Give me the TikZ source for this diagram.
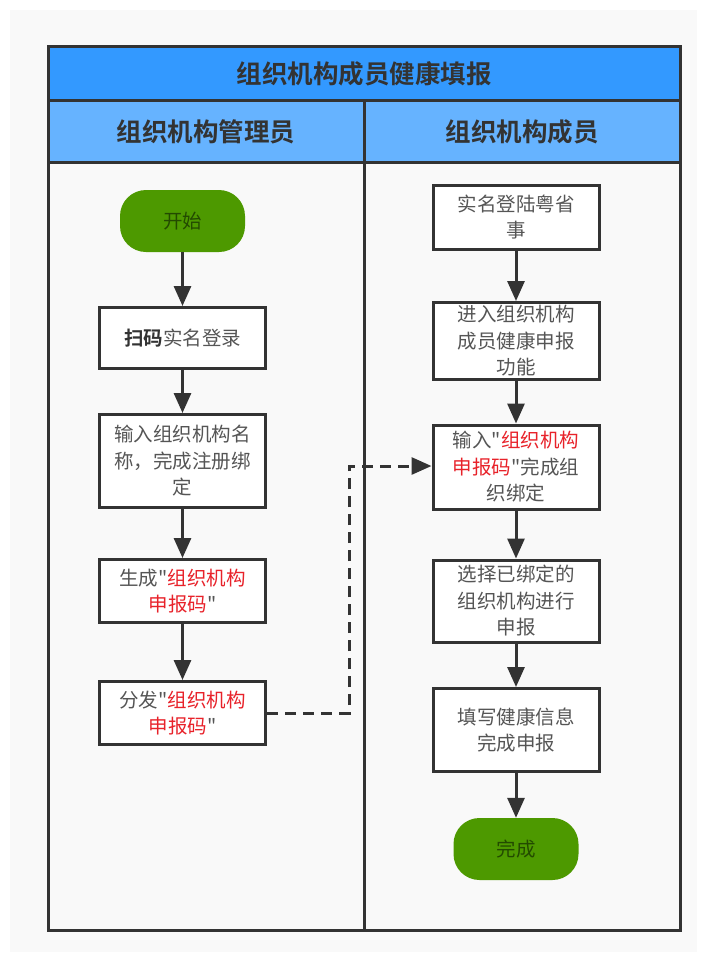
\documentclass[tikz,border=0pt]{standalone}
\usepackage{fontspec}
\setmainfont{Noto Sans CJK SC}[Ligatures=TeXOff]
\newfontfamily\cjkbold{Noto Sans CJK SC Bold}[Ligatures=TeXOff]
\usetikzlibrary{arrows.meta}
\definecolor{bgc}{HTML}{F9F9F9}
\definecolor{titlec}{HTML}{3399FF}
\definecolor{lanec}{HTML}{66B3FF}
\definecolor{framec}{HTML}{333333}
\definecolor{txtc}{HTML}{555555}
\definecolor{redc}{HTML}{E8222A}
\definecolor{greenfill}{HTML}{4D9900}
\definecolor{greentxt}{HTML}{234A00}
\newcommand{\rd}[1]{\textcolor{redc}{#1}}
\begin{document}
\begin{tikzpicture}[x=1pt,y=-1pt,
  framel/.style={draw=framec,line width=3pt},
  boxn/.style={draw=framec,line width=3pt,fill=white,minimum width=166pt,
    inner sep=0pt,align=center,text=txtc,font=\fontsize{19.5}{26.5}\selectfont},
  termn/.style={fill=greenfill,rounded corners=26pt,minimum width=125pt,minimum height=62pt,
    inner sep=0pt,text=greentxt,font=\fontsize{19.5}{26.5}\selectfont},
  hdr/.style={font=\cjkbold\fontsize{25.5}{30}\selectfont,text=framec},
  flow/.style={draw=framec,line width=3pt,-{Triangle[length=20pt,width=17pt]}},
  dflow/.style={flow,dash pattern=on 11pt off 7pt}]
\useasboundingbox (0,0) rectangle (707,962);
\fill[white] (0,0) rectangle (707,962);
\fill[bgc] (10,10) rectangle (697,952);
\fill[titlec] (48,46) rectangle (680,100);
\fill[lanec] (48,100) rectangle (680,162);
\draw[framel] (48,100) -- (680,100);
\draw[framel] (48,162) -- (680,162);
\draw[framel] (364,100) -- (364,930);
\draw[framel] (48,46) rectangle (680,930);
\node[hdr] (title) at (364,74) {组织机构成员健康填报};
\node[hdr] (laneA) at (206,132) {组织机构管理员};
\node[hdr] (laneB) at (522,132) {组织机构成员};
% left lane
\node[termn] (start) at (182.5,221) {开始};
\node[boxn,minimum height=61pt] (a1) at (182.5,338) {{\cjkbold\textcolor{framec}{扫码}}实名登录};
\node[boxn,minimum height=93pt] (a2) at (182.5,461) {输入组织机构名\\称，完成注册绑\\定};
\node[boxn,minimum height=63pt] (a3) at (182.5,591) {生成"\rd{组织机构}\\\rd{申报码}"};
\node[boxn,minimum height=63pt] (a4) at (182.5,713) {分发"\rd{组织机构}\\\rd{申报码}"};
% right lane
\node[boxn,minimum height=64pt] (b1) at (516,217) {实名登陆粤省\\事};
\node[boxn,minimum height=77pt] (b2) at (516,341) {进入组织机构\\成员健康申报\\功能};
\node[boxn,minimum height=84pt] (b3) at (516,467) {输入"\rd{组织机构}\\\rd{申报码}"完成组\\织绑定};
\node[boxn,minimum height=82pt] (b4) at (516,601) {选择已绑定的\\组织机构进行\\申报};
\node[boxn,minimum height=83pt] (b5) at (516,730) {填写健康信息\\完成申报};
\node[termn] (done) at (516,849) {完成};
% arrows
\draw[flow] (start) -- (a1);
\draw[flow] (a1) -- (a2);
\draw[flow] (a2) -- (a3);
\draw[flow] (a3) -- (a4);
\draw[flow] (b1) -- (b2);
\draw[flow] (b2) -- (b3);
\draw[flow] (b3) -- (b4);
\draw[flow] (b4) -- (b5);
\draw[flow] (b5) -- (done);
\coordinate (k1) at (349,713);
\coordinate (k2) at (349,466);
\draw[dflow] (a4.east) -- (k1) -- (k2) -- (b3.west |- k2);
\end{tikzpicture}
\end{document}
